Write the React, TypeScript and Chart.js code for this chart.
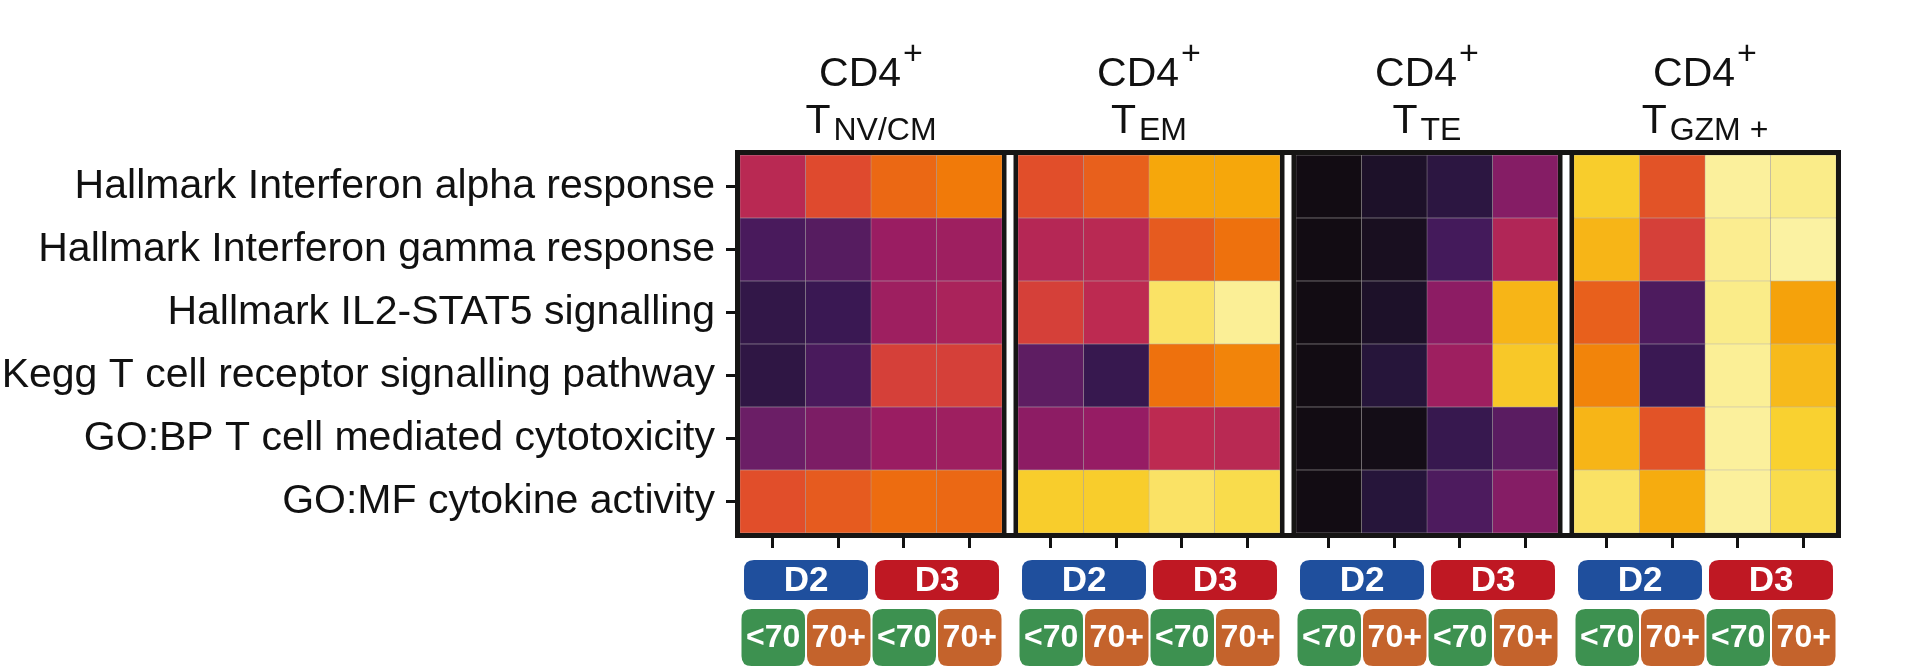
import React, { useEffect, useRef } from 'react';
import { Chart, registerables } from 'chart.js';

Chart.register(...registerables);

// ---------- data ----------
const rowLabels = [
  'Hallmark Interferon alpha response',
  'Hallmark Interferon gamma response',
  'Hallmark IL2-STAT5 signalling',
  'Kegg T cell receptor signalling pathway',
  'GO:BP T cell mediated cytotoxicity',
  'GO:MF cytokine activity',
];

const panelMain = ['CD4', 'CD4', 'CD4', 'CD4'];
const panelSub = ['NV/CM', 'EM', 'TE', 'GZM +'];
const donorLabels = ['D2', 'D3'];
const ageLabels = ['<70', '70+'];

// rows x columns (D2 <70, D2 70+, D3 <70, D3 70+), scaled 0..1 on inferno
const nvcm = [
  [0.49, 0.6, 0.67, 0.71],
  [0.22, 0.25, 0.41, 0.42],
  [0.15, 0.18, 0.42, 0.45],
  [0.14, 0.22, 0.57, 0.57],
  [0.3, 0.34, 0.41, 0.42],
  [0.61, 0.64, 0.68, 0.67],
];
const em = [
  [0.61, 0.65, 0.8, 0.8],
  [0.48, 0.49, 0.64, 0.69],
  [0.57, 0.5, 0.94, 0.98],
  [0.27, 0.17, 0.69, 0.73],
  [0.38, 0.4, 0.5, 0.49],
  [0.88, 0.88, 0.94, 0.92],
];
const te = [
  [0.02, 0.07, 0.13, 0.36],
  [0.02, 0.05, 0.21, 0.47],
  [0.02, 0.07, 0.38, 0.83],
  [0.02, 0.11, 0.42, 0.87],
  [0.02, 0.03, 0.17, 0.26],
  [0.02, 0.11, 0.23, 0.36],
];
const gzm = [
  [0.88, 0.62, 0.985, 0.97],
  [0.83, 0.57, 0.975, 0.99],
  [0.65, 0.23, 0.97, 0.79],
  [0.73, 0.18, 0.98, 0.84],
  [0.83, 0.62, 0.985, 0.89],
  [0.94, 0.81, 0.985, 0.92],
];
const panels = [nvcm, em, te, gzm];

// ---------- styling ----------
// inferno-like colormap, stops as they appear in the printed figure
const CMAP = [
  '#0e0a0a', '#231436', '#40195a', '#6b1e66', '#961c64', '#bd2a51',
  '#df4a2e', '#f07509', '#f6a70b', '#f9d634', '#fbf5ae',
];
const hex = (h: string) => [1, 3, 5].map((i) => parseInt(h.slice(i, i + 2), 16));
function cmap(t: number) {
  const v = Math.max(0, Math.min(1, t)) * (CMAP.length - 1);
  const i = Math.min(CMAP.length - 2, Math.floor(v));
  const f = v - i;
  const a = hex(CMAP[i]);
  const b = hex(CMAP[i + 1]);
  const c = a.map((x, k) => Math.round(x + (b[k] - x) * f));
  return `rgb(${c[0]},${c[1]},${c[2]})`;
}

const FONT = "'Liberation Sans', Arial, Helvetica, sans-serif";
const INK = '#111111';
const FRAME = '#161514';
const DONOR_COLORS = ['#1f4f9d', '#bf1823'];
const AGE_COLORS = ['#3d9150', '#c4632c'];
const GAP = 16 / 65.5; // panel gap in cell units
const PANEL_STEP = 4 + GAP;
const X_MAX = 16 + 3 * GAP;

const colStart = (p: number, c: number) => p * PANEL_STEP + c;
const colCenters: number[] = [];
for (let p = 0; p < 4; p++) for (let c = 0; c < 4; c++) colCenters.push(colStart(p, c) + 0.5);

function roundRect(ctx: CanvasRenderingContext2D, x: number, y: number, w: number, h: number, r: number) {
  ctx.beginPath();
  ctx.moveTo(x + r, y);
  ctx.lineTo(x + w - r, y);
  ctx.quadraticCurveTo(x + w, y, x + w, y + r);
  ctx.lineTo(x + w, y + h - r);
  ctx.quadraticCurveTo(x + w, y + h, x + w - r, y + h);
  ctx.lineTo(x + r, y + h);
  ctx.quadraticCurveTo(x, y + h, x, y + h - r);
  ctx.lineTo(x, y + r);
  ctx.quadraticCurveTo(x, y, x + r, y);
  ctx.closePath();
}

const decorPlugin = {
  id: 'decor',
  afterDraw(chart: any) {
    const { ctx, chartArea: a } = chart;
    const x = chart.scales.x;
    ctx.save();
    // separators between panels
    for (let p = 1; p < 4; p++) {
      const g0 = x.getPixelForValue(p * PANEL_STEP - GAP);
      const g1 = x.getPixelForValue(p * PANEL_STEP);
      ctx.fillStyle = FRAME;
      ctx.fillRect(g0, a.top, g1 - g0, a.bottom - a.top);
      ctx.fillStyle = '#ffffff';
      ctx.fillRect(g0 + 4.5, a.top, g1 - g0 - 9, a.bottom - a.top);
    }
    // outer frame
    ctx.strokeStyle = FRAME;
    ctx.lineWidth = 5;
    ctx.strokeRect(a.left - 2.5, a.top - 2.5, a.right - a.left + 5, a.bottom - a.top + 5);

    // titles
    ctx.fillStyle = INK;
    ctx.textBaseline = 'alphabetic';
    ctx.textAlign = 'left';
    for (let p = 0; p < 4; p++) {
      const cx = x.getPixelForValue(p * PANEL_STEP + 2);
      ctx.font = `41px ${FONT}`;
      const w1 = ctx.measureText(panelMain[p]).width;
      ctx.font = `34px ${FONT}`;
      const w2 = ctx.measureText('+').width;
      let sx = cx - (w1 + w2 + 2) / 2;
      ctx.font = `41px ${FONT}`;
      ctx.fillText(panelMain[p], sx, a.top - 69);
      ctx.font = `34px ${FONT}`;
      ctx.fillText('+', sx + w1 + 2, a.top - 91);
      ctx.font = `41px ${FONT}`;
      const wt = ctx.measureText('T').width;
      ctx.font = `32px ${FONT}`;
      const ws = ctx.measureText(panelSub[p]).width;
      sx = cx - (wt + ws + 3) / 2;
      ctx.font = `41px ${FONT}`;
      ctx.fillText('T', sx, a.top - 22);
      ctx.font = `32px ${FONT}`;
      ctx.fillText(panelSub[p], sx + wt + 3, a.top - 15);
    }

    // badges
    ctx.textAlign = 'center';
    ctx.textBaseline = 'middle';
    for (let p = 0; p < 4; p++) {
      for (let d = 0; d < 2; d++) {
        const l = x.getPixelForValue(colStart(p, d * 2)) + 4;
        const r = x.getPixelForValue(colStart(p, d * 2 + 2)) - 3;
        const top = a.bottom + 27;
        const h = 40;
        ctx.fillStyle = DONOR_COLORS[d];
        roundRect(ctx, l, top, r - l, h, 10);
        ctx.fill();
        ctx.fillStyle = '#ffffff';
        ctx.font = `bold 35px ${FONT}`;
        ctx.fillText(donorLabels[d], (l + r) / 2, top + h / 2 + 1);
        for (let k = 0; k < 2; k++) {
          const c = d * 2 + k;
          const l2 = x.getPixelForValue(colStart(p, c)) + 1.5;
          const r2 = x.getPixelForValue(colStart(p, c + 1)) - 0.5;
          const top2 = a.bottom + 76;
          const h2 = 57;
          ctx.fillStyle = AGE_COLORS[k];
          roundRect(ctx, l2, top2, r2 - l2, h2, 10);
          ctx.fill();
          ctx.fillStyle = '#ffffff';
          ctx.font = `bold 32px ${FONT}`;
          ctx.fillText(ageLabels[k], (l2 + r2) / 2, top2 + h2 / 2 + 1);
        }
      }
    }
    ctx.restore();
  },
};

export default function App() {
  const canvasRef = useRef<HTMLCanvasElement | null>(null);

  useEffect(() => {
    if (!canvasRef.current) return;
    const datasets: any[] = [];
    for (let p = 0; p < 4; p++) {
      for (let c = 0; c < 4; c++) {
        datasets.push({
          label: `${panelSub[p]} ${donorLabels[c >> 1]} ${ageLabels[c & 1]}`,
          data: rowLabels.map(() => [colStart(p, c), colStart(p, c) + 1]),
          backgroundColor: panels[p].map((row) => cmap(row[c])),
          borderColor: 'rgba(150,142,142,0.8)',
          borderWidth: 0.5,
          borderSkipped: false,
          grouped: false,
          barPercentage: 1,
          categoryPercentage: 1,
        });
      }
    }
    const chart = new Chart(canvasRef.current, {
      type: 'bar',
      data: { labels: rowLabels, datasets },
      options: {
        indexAxis: 'y',
        animation: false,
        responsive: true,
        maintainAspectRatio: false,
        layout: { padding: { top: 155, right: 83, left: 0, bottom: 0 } },
        plugins: { legend: { display: false }, tooltip: { enabled: false } },
        scales: {
          x: {
            type: 'linear',
            min: 0,
            max: X_MAX,
            afterBuildTicks: (scale: any) => {
              scale.ticks = colCenters.map((v) => ({ value: v }));
            },
            afterFit: (scale: any) => {
              scale.height = 136;
            },
            ticks: { callback: () => '', autoSkip: false },
            grid: {
              drawOnChartArea: false,
              drawTicks: true,
              tickLength: 15,
              lineWidth: 3,
              color: INK,
            },
            border: { display: false },
          },
          y: {
            type: 'category',
            afterFit: (scale: any) => {
              scale.width = 740;
            },
            ticks: {
              color: INK,
              font: { family: FONT, size: 41 },
              padding: 11,
              autoSkip: false,
            },
            grid: {
              offset: false,
              drawOnChartArea: false,
              drawTicks: true,
              tickLength: 14,
              lineWidth: 3,
              color: INK,
            },
            border: { display: false },
          },
        },
      },
      plugins: [decorPlugin],
    } as any);
    return () => chart.destroy();
  }, []);

  return (
    <div style={{ position: 'fixed', left: 0, top: 0, width: 1919, height: 669, background: '#fff' }}>
      <canvas ref={canvasRef} />
    </div>
  );
}
